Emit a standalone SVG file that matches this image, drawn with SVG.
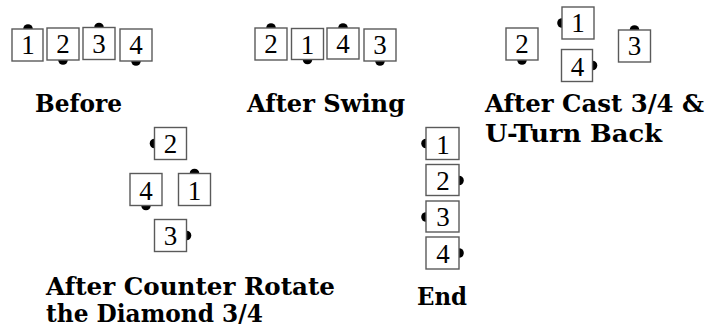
<svg xmlns="http://www.w3.org/2000/svg" width="709" height="331" viewBox="0 0 709 331">
<style>
.box rect{fill:#fff;stroke:#5a5a5a;stroke-width:1.4}
.box circle{fill:#000}
.box text{font-family:"Liberation Serif","Times New Roman",serif;font-size:27px;fill:#000;text-anchor:middle}
.lbl{font-family:"DejaVu Serif",serif;font-weight:bold;font-size:24px;fill:#000}
</style>
<rect width="709" height="331" fill="#fff"/>

<g id="before">
<g id="b1" class="box" transform="translate(12,29)"><circle cx="16" cy="0" r="4.8"/><rect width="31" height="32"/><text x="16" y="25">1</text></g>
<g id="b2" class="box" transform="translate(47,28)"><circle cx="16" cy="32" r="4.8"/><rect width="32" height="32"/><text x="16" y="25">2</text></g>
<g id="b3" class="box" transform="translate(83,27.5)"><circle cx="16" cy="0" r="4.8"/><rect width="32" height="32"/><text x="16" y="25">3</text></g>
<g id="b4" class="box" transform="translate(120,29)"><circle cx="16" cy="32" r="4.8"/><rect width="32" height="32"/><text x="16" y="25">4</text></g>
</g>

<g id="swing">
<g id="s2" class="box" transform="translate(255,28)"><circle cx="16" cy="0" r="4.8"/><rect width="32" height="32"/><text x="16" y="25">2</text></g>
<g id="s1" class="box" transform="translate(291.5,28.5)"><circle cx="16" cy="31" r="4.8"/><rect width="32" height="31"/><text x="16" y="25">1</text></g>
<g id="s4" class="box" transform="translate(327,28)"><circle cx="16" cy="0" r="4.8"/><rect width="32" height="31"/><text x="16" y="25">4</text></g>
<g id="s3" class="box" transform="translate(364,29)"><circle cx="16" cy="32" r="4.8"/><rect width="32" height="32"/><text x="16" y="25">3</text></g>
</g>

<g id="cast">
<g id="c1" class="box" transform="translate(562,7)"><circle cx="0" cy="16" r="4.8"/><rect width="32" height="32"/><text x="16" y="25">1</text></g>
<g id="c2" class="box" transform="translate(506,28)"><circle cx="16" cy="32" r="4.8"/><rect width="32" height="32"/><text x="16" y="25">2</text></g>
<g id="c4" class="box" transform="translate(561.5,49.5)"><circle cx="31" cy="16" r="4.8"/><rect width="31" height="32"/><text x="16" y="26">4</text></g>
<g id="c3" class="box" transform="translate(618.5,30)"><circle cx="16" cy="0" r="4.8"/><rect width="32" height="32"/><text x="16" y="25">3</text></g>
</g>

<g id="rotate">
<g id="r2" class="box" transform="translate(154.5,127.5)"><circle cx="0" cy="16" r="4.8"/><rect width="32" height="32"/><text x="16" y="25">2</text></g>
<g id="r4" class="box" transform="translate(130,173.5)"><circle cx="16" cy="32" r="4.8"/><rect width="32" height="32"/><text x="16" y="26">4</text></g>
<g id="r1" class="box" transform="translate(178.5,173.5)"><circle cx="16" cy="0" r="4.8"/><rect width="32" height="32"/><text x="16" y="26">1</text></g>
<g id="r3" class="box" transform="translate(154.5,219.5)"><circle cx="32" cy="16" r="4.8"/><rect width="32" height="32"/><text x="16" y="25">3</text></g>
</g>

<g id="end">
<g id="e1" class="box" transform="translate(426,127.5)"><circle cx="0" cy="16" r="4.8"/><rect width="33" height="32"/><text x="17" y="26">1</text></g>
<g id="e2" class="box" transform="translate(426,164.5)"><circle cx="33" cy="16" r="4.8"/><rect width="33" height="31"/><text x="17" y="25">2</text></g>
<g id="e3" class="box" transform="translate(426,201)"><circle cx="0" cy="16" r="4.8"/><rect width="33" height="31"/><text x="17" y="25">3</text></g>
<g id="e4" class="box" transform="translate(426,237)"><circle cx="33" cy="16" r="4.8"/><rect width="33" height="32"/><text x="17" y="26">4</text></g>
</g>

<g id="labels">
<text class="lbl" x="35" y="112" textLength="87" lengthAdjust="spacingAndGlyphs">Before</text>
<text class="lbl" x="247" y="112" textLength="158" lengthAdjust="spacingAndGlyphs">After Swing</text>
<text class="lbl" x="485" y="112" textLength="219" lengthAdjust="spacingAndGlyphs">After Cast 3/4 &amp;</text>
<text class="lbl" x="485" y="142" textLength="177" lengthAdjust="spacingAndGlyphs">U-Turn Back</text>
<text class="lbl" x="46" y="295" textLength="289" lengthAdjust="spacingAndGlyphs">After Counter Rotate</text>
<text class="lbl" x="46" y="322" textLength="217" lengthAdjust="spacingAndGlyphs">the Diamond 3/4</text>
<text class="lbl" x="417" y="305" textLength="50" lengthAdjust="spacingAndGlyphs">End</text>
</g>
</svg>
